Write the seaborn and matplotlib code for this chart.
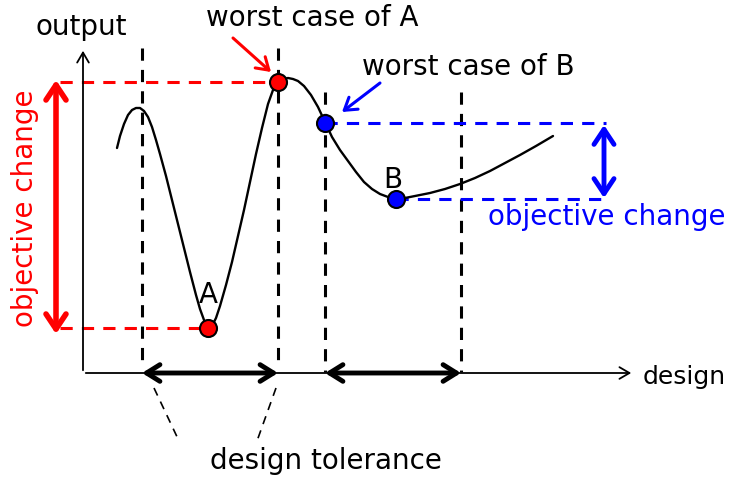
import matplotlib
matplotlib.use("Agg")
import matplotlib.pyplot as plt
import seaborn as sns
import pandas as pd

sns.set_theme(style="white")
plt.rcParams['font.family'] = ['DejaVu Sans']
plt.rcParams['text.color'] = 'black'

# curve (pixel coordinates, y downward)
curve_x = [117, 120, 124, 128, 132, 136, 140, 144, 148, 152, 156, 160, 166, 172, 178,
           184, 190, 196, 200, 204, 208, 212, 216, 220, 226, 232, 238, 244, 250, 256,
           262, 268, 273, 278, 283, 288, 293, 298, 304, 311, 318, 325, 332, 340, 348, 356,
           364, 372, 380, 388, 396, 405, 415, 430, 445, 460, 475, 490, 505, 520, 536, 553]
curve_y = [148, 136, 124, 115, 110, 108, 108, 111, 117, 127, 140, 154, 176, 200, 224,
           248, 272, 295, 309, 320, 327, 326, 318, 306, 285, 262, 236, 210, 182, 154,
           128, 104, 90, 82, 79, 78, 79, 81, 86, 95, 107, 122, 137, 150, 161, 172,
           182, 189, 194, 197, 199, 198, 196, 193, 189, 184, 178, 171, 163, 155, 146, 136]

red_px = [278, 208]
red_py = [82, 328]
blue_px = [325, 396]
blue_py = [123, 199]

tol_A = [142, 278]
tol_B = [325, 461]

fig = plt.figure(figsize=(7.34, 4.79), dpi=100)
ax = fig.add_axes([0, 0, 1, 1])

dash = (0, (4, 3))
FS = 20

# axes
ax.annotate('', xy=(83, 48), xytext=(83, 373),
            arrowprops=dict(arrowstyle='->,head_length=0.6,head_width=0.35', lw=1.3, color='black'))
ax.annotate('', xy=(634, 373), xytext=(83, 373),
            arrowprops=dict(arrowstyle='->,head_length=0.6,head_width=0.35', lw=1.3, color='black'))
ax.text(81, 27, 'output', ha='center', va='center', fontsize=FS)
ax.text(643, 377, 'design', ha='left', va='center', fontsize=18)

# tolerance dashed verticals
ax.vlines([tol_A[0], tol_A[1]], 48, 360, colors='black', linestyles=dash, lw=2.2)
ax.vlines([tol_B[0], tol_B[1]], 92, 372, colors='black', linestyles=dash, lw=2.2)

# red dashed horizontals
ax.hlines([red_py[0]], 60, red_px[0], colors='#ff0000', linestyles=dash, lw=2.2)
ax.hlines([red_py[1]], 60, red_px[1], colors='#ff0000', linestyles=dash, lw=2.2)
# blue dashed horizontals
ax.hlines([blue_py[0]], blue_px[0], 606, colors='#0000ff', linestyles=dash, lw=2.2)
ax.hlines([blue_py[1]], blue_px[1], 606, colors='#0000ff', linestyles=dash, lw=2.2)

# curve
df = pd.DataFrame({'x': curve_x, 'y': curve_y})
sns.lineplot(data=df, x='x', y='y', sort=False, color='black', lw=1.7, ax=ax,
             solid_joinstyle='round')

# points
sns.scatterplot(x=red_px, y=red_py, color='#ff0000', s=150, edgecolor='black', linewidth=1.5, zorder=5, ax=ax)
sns.scatterplot(x=blue_px, y=blue_py, color='#0000ff', s=150, edgecolor='black', linewidth=1.5, zorder=5, ax=ax)

ax.text(208, 295, 'A', ha='center', va='center', fontsize=FS)
ax.text(393, 180, 'B', ha='center', va='center', fontsize=FS)

# red objective change
ax.annotate('', xy=(56, 80), xytext=(56, 334),
            arrowprops=dict(arrowstyle='<->,head_length=0.9,head_width=0.6', lw=4, color='#ff0000',
                            shrinkA=0, shrinkB=0))
ax.text(25, 208, 'objective change', rotation=90, ha='center', va='center', fontsize=FS, color='#ff0000')

# blue objective change
ax.annotate('', xy=(604, 125), xytext=(604, 198),
            arrowprops=dict(arrowstyle='<->,head_length=0.9,head_width=0.6', lw=3.5, color='#0000ff',
                            shrinkA=0, shrinkB=0))
ax.text(488, 217, 'objective change', ha='left', va='center', fontsize=FS, color='#0000ff')

# worst case labels and arrows
ax.text(312, 18, 'worst case of A', ha='center', va='center', fontsize=FS)
ax.annotate('', xy=(271, 72), xytext=(233, 38),
            arrowprops=dict(arrowstyle='->,head_length=0.7,head_width=0.45', lw=2.2, color='#ff0000',
                            shrinkA=0, shrinkB=0))
ax.text(468, 67, 'worst case of B', ha='center', va='center', fontsize=FS)
ax.annotate('', xy=(342, 112), xytext=(380, 83),
            arrowprops=dict(arrowstyle='->,head_length=0.7,head_width=0.45', lw=2.2, color='#0000ff',
                            shrinkA=0, shrinkB=0))

# tolerance double arrows
ax.annotate('', xy=(tol_A[0], 373), xytext=(tol_A[1], 373),
            arrowprops=dict(arrowstyle='<->,head_length=0.8,head_width=0.5', lw=3.5, color='black',
                            shrinkA=0, shrinkB=0))
ax.annotate('', xy=(tol_B[0], 373), xytext=(tol_B[1], 373),
            arrowprops=dict(arrowstyle='<->,head_length=0.8,head_width=0.5', lw=3.5, color='black',
                            shrinkA=0, shrinkB=0))

# leader lines
ax.plot([154, 179], [388, 441], color='black', lw=1.2, linestyle=(0, (5, 4)))
ax.plot([276, 257], [388, 441], color='black', lw=1.2, linestyle=(0, (5, 4)))
ax.text(326, 461, 'design tolerance', ha='center', va='center', fontsize=FS)

ax.set_xlim(0, 734)
ax.set_ylim(479, 0)
ax.axis('off')

fig.savefig('out.png', dpi=100)
